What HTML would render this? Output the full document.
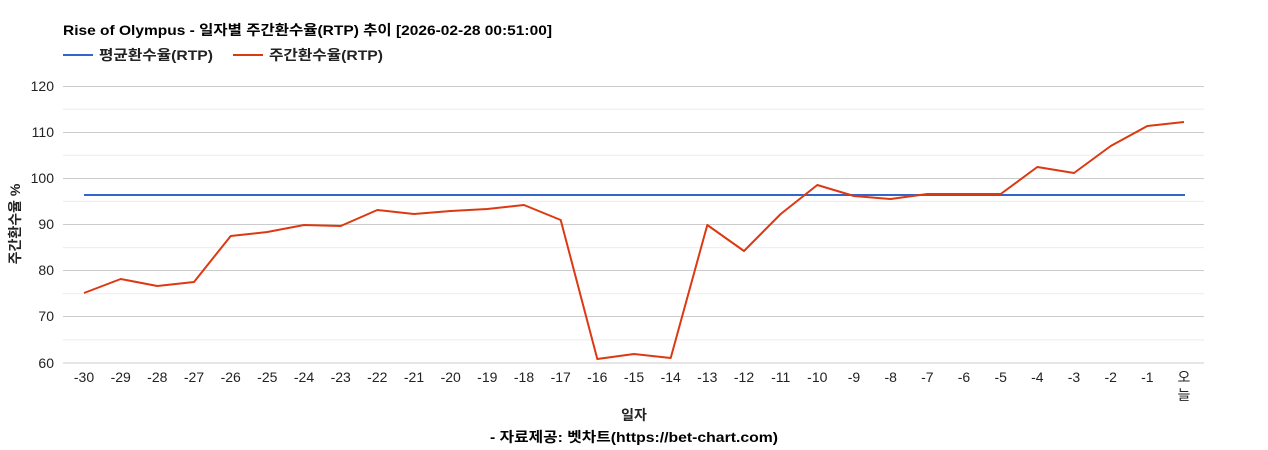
<!DOCTYPE html>
<html><head><meta charset="utf-8"><style>
html,body{margin:0;padding:0;background:#fff;}
svg{display:block;font-family:"Liberation Sans","Noto Sans CJK KR",sans-serif;}
</style></head><body>
<svg width="1268" height="450" viewBox="0 0 1268 450" xmlns="http://www.w3.org/2000/svg">
<text x="63" y="35" font-size="14" font-weight="bold" fill="#000" textLength="489" lengthAdjust="spacingAndGlyphs">Rise of Olympus - 일자별 주간환수율(RTP) 추이 [2026-02-28 00:51:00]</text>
<line x1="63" y1="55" x2="93" y2="55" stroke="#3366cc" stroke-width="2"/>
<text x="99" y="60" font-size="14" font-weight="bold" fill="#222" textLength="114" lengthAdjust="spacingAndGlyphs">평균환수율(RTP)</text>
<line x1="233" y1="55" x2="263" y2="55" stroke="#dc3912" stroke-width="2"/>
<text x="269" y="60" font-size="14" font-weight="bold" fill="#222" textLength="114" lengthAdjust="spacingAndGlyphs">주간환수율(RTP)</text>
<g stroke="#ebebeb" stroke-width="1">
<line x1="63" x2="1204" y1="109.1" y2="109.1"/><line x1="63" x2="1204" y1="155.2" y2="155.2"/>
<line x1="63" x2="1204" y1="201.4" y2="201.4"/><line x1="63" x2="1204" y1="247.6" y2="247.6"/>
<line x1="63" x2="1204" y1="293.7" y2="293.7"/><line x1="63" x2="1204" y1="339.9" y2="339.9"/>
</g>
<g stroke="#cccccc" stroke-width="1">
<line x1="63" x2="1204" y1="86.5" y2="86.5"/><line x1="63" x2="1204" y1="132.5" y2="132.5"/>
<line x1="63" x2="1204" y1="178.5" y2="178.5"/><line x1="63" x2="1204" y1="224.5" y2="224.5"/>
<line x1="63" x2="1204" y1="270.5" y2="270.5"/><line x1="63" x2="1204" y1="316.5" y2="316.5"/>
<line x1="63" x2="1204" y1="363" y2="363"/>
</g>
<g font-size="14" fill="#222" text-anchor="end">
<text x="54" y="91">120</text><text x="54" y="137">110</text><text x="54" y="183">100</text>
<text x="54" y="229">90</text><text x="54" y="275">80</text><text x="54" y="321">70</text><text x="54" y="368">60</text>
</g>
<text transform="translate(20,224) rotate(-90)" font-size="14" font-weight="bold" text-anchor="middle" fill="#222">주간환수율 %</text>
<g font-size="14" fill="#222" text-anchor="middle">
<text x="84" y="382">-30</text><text x="120.7" y="382">-29</text><text x="157.3" y="382">-28</text><text x="194" y="382">-27</text>
<text x="230.7" y="382">-26</text><text x="267.3" y="382">-25</text><text x="304" y="382">-24</text><text x="340.7" y="382">-23</text>
<text x="377.3" y="382">-22</text><text x="414" y="382">-21</text><text x="450.7" y="382">-20</text><text x="487.3" y="382">-19</text>
<text x="524" y="382">-18</text><text x="560.7" y="382">-17</text><text x="597.3" y="382">-16</text><text x="634" y="382">-15</text>
<text x="670.7" y="382">-14</text><text x="707.3" y="382">-13</text><text x="744" y="382">-12</text><text x="780.7" y="382">-11</text>
<text x="817.3" y="382">-10</text><text x="854" y="382">-9</text><text x="890.7" y="382">-8</text><text x="927.3" y="382">-7</text>
<text x="964" y="382">-6</text><text x="1000.7" y="382">-5</text><text x="1037.3" y="382">-4</text><text x="1074" y="382">-3</text>
<text x="1110.7" y="382">-2</text><text x="1147.3" y="382">-1</text><text x="1184" y="382">오</text><text x="1184" y="400">늘</text>
</g>
<text x="634" y="420" font-size="14" font-weight="bold" text-anchor="middle" fill="#222">일자</text>
<text x="490" y="442" font-size="14" font-weight="bold" fill="#000" textLength="288" lengthAdjust="spacingAndGlyphs">- 자료제공: 벳차트(https://bet-chart.com)</text>
<line x1="84" y1="195" x2="1185" y2="195" stroke="#3366cc" stroke-width="2"/>
<polyline fill="none" stroke="#dc3912" stroke-width="2" stroke-linejoin="round" points="84,293 120.7,279 157.3,286 194,282 230.7,236 267.3,232 304,225 340.7,226 377.3,210 414,214 450.7,211 487.3,209 524,205 560.7,220 597.3,359 634,354 670.7,358 707.3,225 744,251 780.7,214 817.3,185 854,196 890.7,199 927.3,194 964,194 1000.7,194 1037.3,167 1074,173 1110.7,146 1147.3,126 1184,122"/>
</svg>
</body></html>
